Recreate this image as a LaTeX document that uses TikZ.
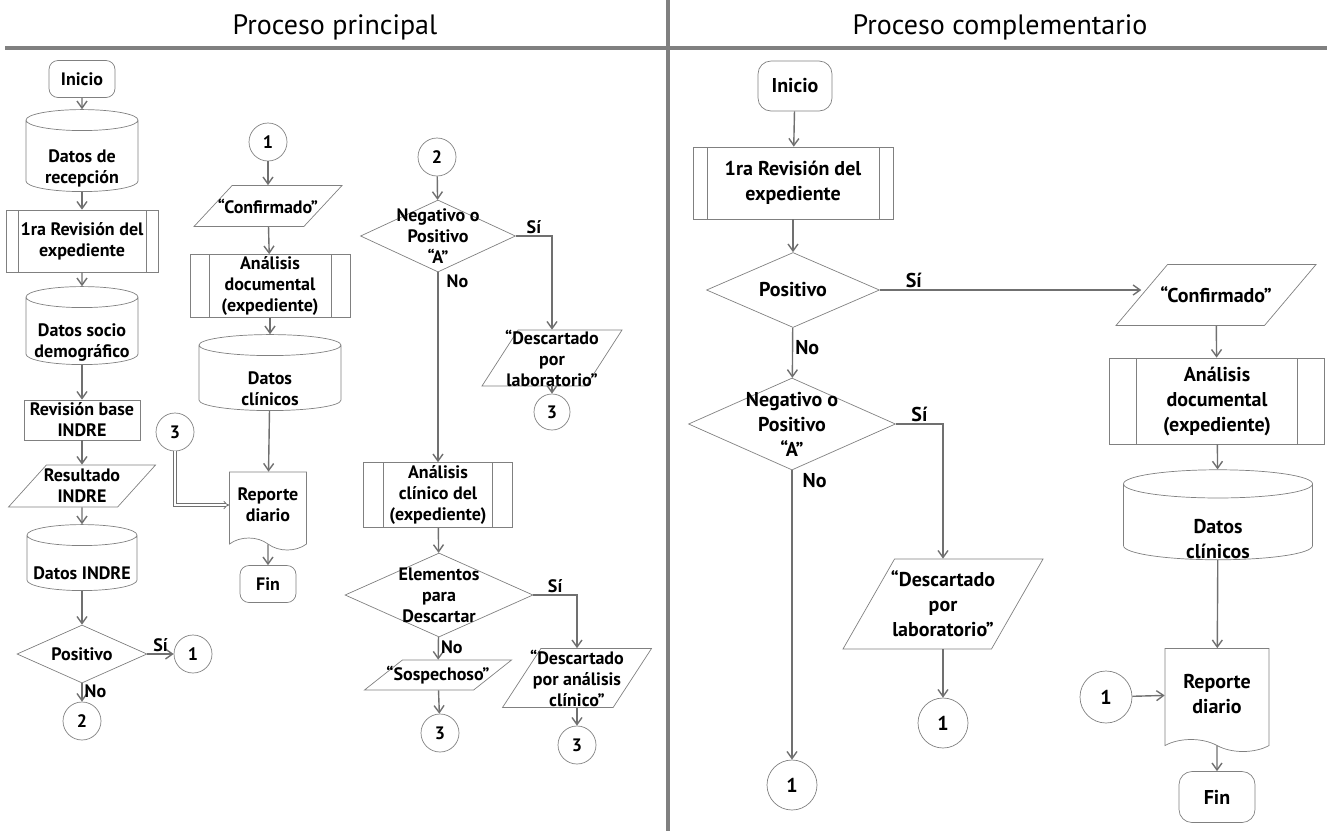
\documentclass[tikz,border=0pt]{standalone}
\usepackage{fontspec}
\setmainfont{PT Sans}
\usetikzlibrary{positioning, arrows.meta, calc, shapes.geometric, shapes.symbols}

\definecolor{wire}{RGB}{112,112,112}
\definecolor{rim}{RGB}{128,128,128}

\begin{document}
\begin{tikzpicture}[
      x=1pt, y=-1pt, % pixel grid, y downwards
      >={Straight Barb[length=7pt,width=10pt]},
      font=\fontsize{18}{21}\selectfont\bfseries,
      base/.style={draw=rim, line width=0.7pt, align=center, inner sep=0pt},
      term/.style={base, rectangle, rounded corners=9pt},
      plainbox/.style={base, rectangle},
      store/.style={base, cylinder, shape border rotate=90, aspect=0.35,
          execute at begin node={\rule{60pt}{0pt}}},
      subproc/.style={base, rectangle, path picture={
          \draw[rim, line width=0.7pt]
            ([xshift=#1]path picture bounding box.north west) -- ([xshift=#1]path picture bounding box.south west)
            ([xshift=-#1]path picture bounding box.north east) -- ([xshift=-#1]path picture bounding box.south east);}},
      subproc/.default=12pt,
      iobox/.style={base, trapezium, inner sep=1pt, trapezium left angle=62, trapezium right angle=118, trapezium stretches=true},
      decide/.style={base, diamond, inner sep=1pt},
      doc/.style={base, tape, tape bend top=none, tape bend bottom=out and in, tape bend height=12pt},
      conn/.style={base, circle},
      ltxt/.style={align=center, inner sep=0pt, font=\fontsize{18}{21}\selectfont\bfseries},
      rtxt/.style={align=center, inner sep=0pt, font=\fontsize{20}{25}\selectfont\bfseries},
      big/.style={font=\fontsize{20}{25}\selectfont\bfseries},
      flow/.style={->, wire, line width=1.4pt},
      twin/.style={draw=wire, line width=0.8pt, double=white, double distance=2pt, -{Implies[length=8pt,width=14pt]}},
      lab/.style={text=black, font=\fontsize{18}{20}\selectfont\bfseries, inner sep=2pt},
      rlab/.style={text=black, font=\fontsize{20}{22}\selectfont\bfseries, inner sep=2pt},
      title/.style={font=\fontsize{28}{32}\selectfont},
      bar/.style={draw=rim, line width=3.5pt},
    ]
    \useasboundingbox (0,0) rectangle (1327,831);

    % ---- headings and lanes -----------------------------------------------
    \draw[bar] (5,48) -- (1327,48);
    \draw[bar] (668,0) -- (668,831);
    \node[title] (tmain) at (335,27) {Proceso principal};
    \node[title] (tcomp) at (1000,27) {Proceso complementario};

    % ---- main process, first column ---------------------------------------
    \node[term, minimum width=66, minimum height=37] (ini) at (82,79) {Inicio};
    \node[store, minimum width=112, minimum height=82, label={[ltxt, yshift=-12]center:Datos de\\recepción}] (drec) at (82,156) {};
    \node[subproc, minimum width=152, minimum height=62] (rev1) at (82,241) {1ra Revisión del\\expediente};
    \node[store, minimum width=112, minimum height=78, label={[ltxt, yshift=-11]center:Datos socio\\demográfico}] (dsoc) at (82,331) {};
    \node[plainbox, minimum width=116, minimum height=40] (rbase) at (82,420) {Revisión base\\INDRE};
    \node[iobox, minimum width=147, minimum height=42, label={[ltxt]center:Resultado\\INDRE}] (res) at (82,486) {};
    \node[store, minimum width=110, minimum height=66, label={[ltxt, yshift=-10]center:Datos INDRE}] (dind) at (82,563) {};
    \node[decide, minimum width=130, minimum height=58, label={[ltxt]center:Positivo}] (pos) at (82,654) {};
    \node[conn, minimum size=38] (c1) at (193,654) {1};
    \node[conn, minimum size=38] (c2) at (82,721) {2};

    \draw[flow] (ini) -- (drec);
    \draw[flow] (drec) -- (rev1);
    \draw[flow] (rev1) -- (dsoc);
    \draw[flow] (dsoc) -- (rbase);
    \draw[flow] (rbase) -- (res);
    \draw[flow] (res) -- (dind);
    \draw[flow] (dind) -- (pos);
    \draw[flow] (pos) -- node[lab, above, pos=0.5] {Sí} (c1);
    \draw[flow] (pos) -- node[lab, right, pos=0.45] {No} (c2);

    % ---- main process, second column --------------------------------------
    \node[conn, minimum size=38] (c1b) at (268,142) {1};
    \node[iobox, minimum width=148, minimum height=41, label={[ltxt]center:“Confirmado”}] (conf) at (268,206) {};
    \node[subproc=19pt, minimum width=160, minimum height=63] (adoc) at (270,286) {Análisis\\documental\\(expediente)};
    \node[store, minimum width=142, minimum height=76, label={[ltxt, yshift=-11]center:Datos\\clínicos}] (dcli) at (270,378) {};
    \node[conn, minimum size=38] (c3) at (175,432) {3};
    \node[doc, minimum width=77, minimum height=78] (rep) at (268,505) {Reporte\\diario};
    \node[term, minimum width=56, minimum height=37] (fin) at (268,584) {Fin};

    \draw[flow] (c1b) -- (conf);
    \draw[flow] (conf) -- (adoc);
    \draw[flow] (adoc) -- (dcli);
    \draw[flow] (dcli) -- (rep);
    \draw[twin] (c3) |- (rep);
    \draw[flow] (rep) -- (fin);

    % ---- main process, third column ---------------------------------------
    \node[conn, minimum size=38] (c2b) at (437,157) {2};
    \node[decide, minimum width=155, minimum height=72, label={[ltxt]center:Negativo o\\Positivo\\“A”}] (neg) at (438,236) {};
    \node[iobox, minimum width=140, minimum height=56, label={[ltxt]center:“Descartado\\por\\laboratorio”}] (desc) at (552,358) {};
    \node[conn, minimum size=36] (c3b) at (552,412) {3};
    \node[subproc=20pt, minimum width=149, minimum height=65] (acli) at (438,495) {Análisis\\clínico del\\(expediente)};
    \node[decide, minimum width=188, minimum height=84, label={[ltxt]center:Elementos\\para\\Descartar}] (elem) at (439,595) {};
    \node[iobox, minimum width=147, minimum height=30, label={[ltxt]center:“Sospechoso”}] (sos) at (438,675) {};
    \node[conn, minimum size=38] (c3c) at (440,733) {3};
    \node[iobox, minimum width=149, minimum height=59, label={[ltxt]center:“Descartado\\por análisis\\clínico”}] (descc) at (577,678) {};
    \node[conn, minimum size=38] (c3d) at (577,745) {3};

    \draw[flow] (c2b) -- (neg);
    \draw[flow] (neg.east) -| node[lab, above, pos=0.25] {Sí} (desc.north);
    \draw[flow] (desc) -- (c3b);
    \draw[flow] (neg) -- node[lab, pos=0, anchor=north west, xshift=6] {No} (acli);
    \draw[flow] (acli) -- (elem);
    \draw[flow] (elem.east) -| node[lab, above, pos=0.25] {Sí} (descc.north);
    \draw[flow] (elem) -- node[lab, right, pos=0.45] {No} (sos);
    \draw[flow] (descc) -- (c3d);
    \draw[flow] (sos) -- (c3c);

    % ---- complementary process --------------------------------------------
    \node[term, big, rounded corners=13pt, minimum width=74, minimum height=50] (iniR) at (795,86) {Inicio};
    \node[subproc=14pt, big, minimum width=200, minimum height=72] (rev1R) at (793,183) {1ra Revisión del\\expediente};
    \node[decide, minimum width=173, minimum height=75, label={[rtxt]center:Positivo}] (posR) at (793,290) {};
    \node[decide, minimum width=207, minimum height=92, label={[rtxt]center:Negativo o\\Positivo\\“A”}] (negR) at (792,424) {};
    \node[iobox, minimum width=200, minimum height=90, label={[rtxt]center:“Descartado\\por\\laboratorio”}] (descR) at (943,604) {};
    \node[conn, big, minimum size=50] (c1R2) at (943,723) {1};
    \node[conn, big, minimum size=50] (c1R1) at (792,785) {1};
    \node[iobox, minimum width=200, minimum height=61, label={[rtxt]center:“Confirmado”}] (confR) at (1216,295) {};
    \node[subproc=27pt, big, minimum width=215, minimum height=86] (adocR) at (1217,401) {Análisis\\documental\\(expediente)};
    \node[store, aspect=0.47, minimum width=189, minimum height=90, label={[rtxt, yshift=-17]center:Datos\\clínicos}] (dcliR) at (1218,522) {};
    \node[doc, big, minimum width=104, minimum height=103] (repR) at (1217,694) {Reporte\\diario};
    \node[conn, big, minimum size=52] (c1R3) at (1106,697) {1};
    \node[term, big, rounded corners=13pt, minimum width=76, minimum height=51] (finR) at (1217,797) {Fin};

    \draw[flow] (iniR) -- (rev1R);
    \draw[flow] (rev1R) -- (posR);
    \draw[flow] (posR.east) -- node[rlab, above, pos=0.13] {Sí} (posR.east -| confR.west);
    \draw[flow] (posR) -- node[rlab, right, pos=0.4] {No} (negR);
    \draw[flow] (negR.east) -| node[rlab, above, pos=0.25] {Sí} (descR.north);
    \draw[flow] (negR) -- node[rlab, pos=0, anchor=north west, xshift=8] {No} (c1R1);
    \draw[flow] (descR) -- (c1R2);
    \draw[flow] (confR) -- (adocR);
    \draw[flow] (adocR) -- (dcliR);
    \draw[flow] (dcliR) -- (repR);
    \draw[flow] (c1R3) -- (repR);
    \draw[flow] (repR) -- (finR);
  \end{tikzpicture}
\end{document}
